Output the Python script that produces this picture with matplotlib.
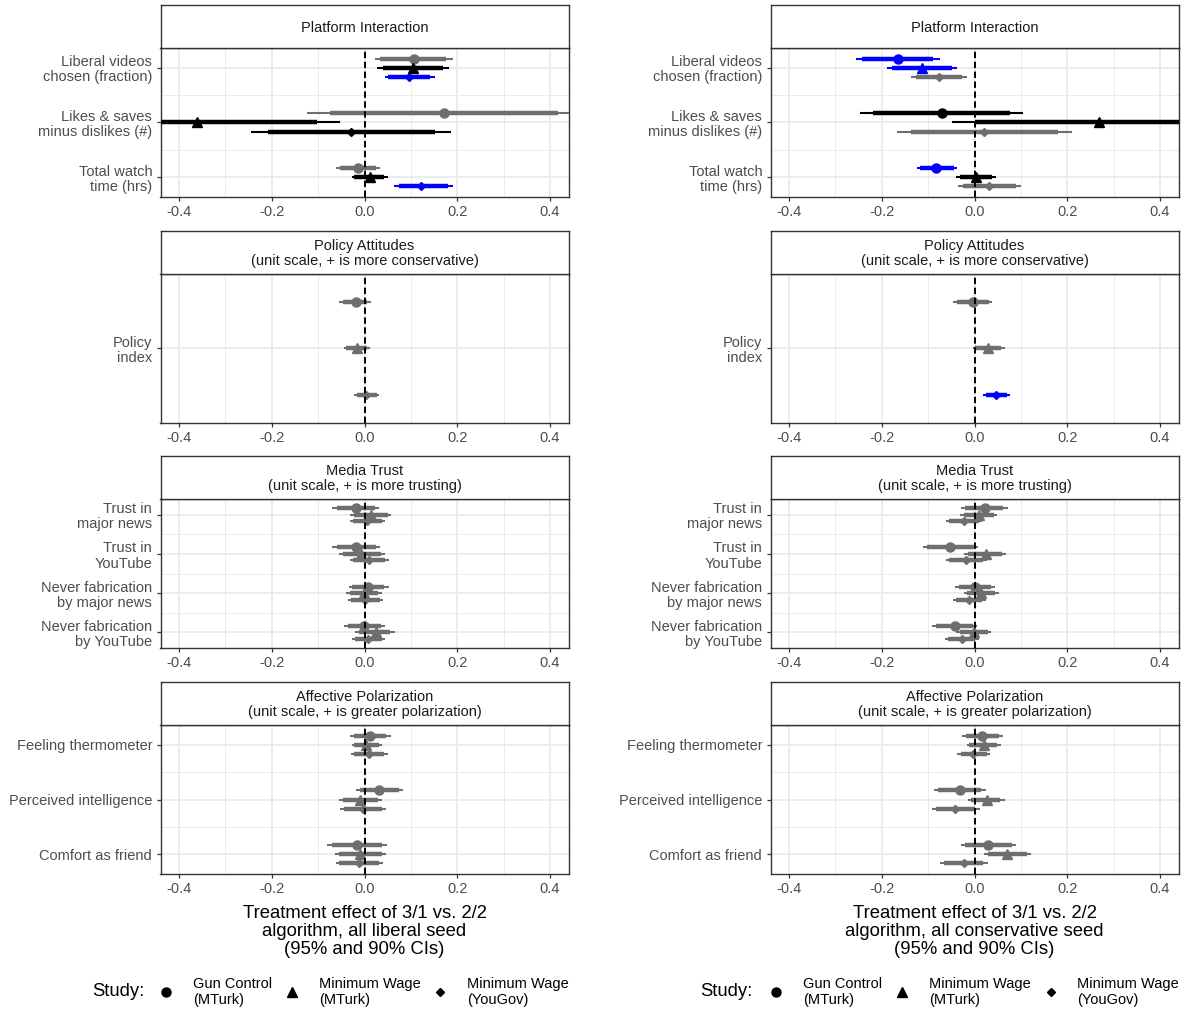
import numpy as np
import matplotlib
matplotlib.use('Agg')
import matplotlib.pyplot as plt
from matplotlib.lines import Line2D

plt.rcParams['font.family'] = ['Liberation Sans', 'DejaVu Sans']

# ---- data -------------------------------------------------------------
studies = ['Gun Control\n(MTurk)', 'Minimum Wage\n(MTurk)', 'Minimum Wage\n(YouGov)']

facets = ['Platform Interaction',
          'Policy Attitudes\n(unit scale, + is more conservative)',
          'Media Trust\n(unit scale, + is more trusting)',
          'Affective Polarization\n(unit scale, + is greater polarization)']

outcomes = [
    ['Liberal videos\nchosen (fraction)', 'Likes & saves\nminus dislikes (#)', 'Total watch\ntime (hrs)'],
    ['Policy\nindex'],
    ['Trust in\nmajor news', 'Trust in\nYouTube', 'Never fabrication\nby major news', 'Never fabrication\nby YouTube'],
    ['Feeling thermometer', 'Perceived intelligence', 'Comfort as friend'],
]

xtitles = ['Treatment effect of 3/1 vs. 2/2\nalgorithm, all liberal seed\n(95% and 90% CIs)',
           'Treatment effect of 3/1 vs. 2/2\nalgorithm, all conservative seed\n(95% and 90% CIs)']

# one row per outcome (in order above), one value per study
lib_est = [[0.106, 0.104, 0.097], [0.171, -0.361, -0.029], [-0.014, 0.011, 0.122],
           [-0.019, -0.017, 0.004],
           [-0.019, 0.014, 0.006], [-0.018, -0.007, 0.009], [0.008, -0.001, 0.001], [-0.001, 0.024, 0.008],
           [0.011, 0.004, 0.009], [0.032, -0.010, -0.003], [-0.016, -0.010, -0.012]]
lib_lo95 = [[0.022, 0.027, 0.044], [-0.123, -0.670, -0.244], [-0.062, -0.027, 0.064],
            [-0.054, -0.044, -0.022],
            [-0.070, -0.032, -0.032], [-0.070, -0.055, -0.032], [-0.034, -0.039, -0.035], [-0.044, -0.021, -0.027],
            [-0.032, -0.027, -0.030], [-0.018, -0.055, -0.053], [-0.080, -0.064, -0.062]]
lib_hi95 = [[0.191, 0.182, 0.151], [0.465, -0.052, 0.187], [0.034, 0.050, 0.191],
            [0.014, 0.011, 0.031],
            [0.032, 0.057, 0.044], [0.034, 0.045, 0.053], [0.052, 0.037, 0.039], [0.045, 0.065, 0.044],
            [0.057, 0.038, 0.051], [0.083, 0.038, 0.047], [0.049, 0.046, 0.039]]
lib_lo90 = [[0.034, 0.039, 0.051], [-0.075, -0.620, -0.209], [-0.052, -0.022, 0.075],
            [-0.046, -0.039, -0.016],
            [-0.060, -0.023, -0.025], [-0.060, -0.046, -0.024], [-0.027, -0.032, -0.029], [-0.035, -0.012, -0.020],
            [-0.023, -0.022, -0.022], [-0.009, -0.046, -0.044], [-0.070, -0.055, -0.054]]
lib_hi90 = [[0.176, 0.169, 0.142], [0.417, -0.102, 0.153], [0.025, 0.042, 0.180],
            [0.006, 0.006, 0.026],
            [0.022, 0.050, 0.038], [0.024, 0.036, 0.045], [0.042, 0.029, 0.033], [0.036, 0.056, 0.037],
            [0.047, 0.031, 0.042], [0.074, 0.029, 0.038], [0.038, 0.037, 0.031]]
lib_col = [['g', 'k', 'b'], ['g', 'k', 'k'], ['g', 'k', 'b'],
           ['g', 'g', 'g'],
           ['g', 'g', 'g'], ['g', 'g', 'g'], ['g', 'g', 'g'], ['g', 'g', 'g'],
           ['g', 'g', 'g'], ['g', 'g', 'g'], ['g', 'g', 'g']]

con_est = [[-0.165, -0.113, -0.076], [-0.071, 0.269, 0.021], [-0.082, 0.004, 0.032],
           [-0.004, 0.029, 0.047],
           [0.022, 0.009, -0.022], [-0.053, 0.024, -0.018], [0.000, 0.014, -0.012], [-0.043, -0.001, -0.028],
           [0.016, 0.020, -0.003], [-0.032, 0.026, -0.041], [0.030, 0.070, -0.023]]
con_lo95 = [[-0.255, -0.189, -0.136], [-0.247, -0.049, -0.168], [-0.124, -0.040, -0.036],
            [-0.047, -0.004, 0.018],
            [-0.029, -0.031, -0.062], [-0.112, -0.022, -0.062], [-0.042, -0.023, -0.047], [-0.091, -0.039, -0.064],
            [-0.028, -0.017, -0.037], [-0.088, -0.014, -0.091], [-0.030, 0.020, -0.075]]
con_hi95 = [[-0.075, -0.037, -0.016], [0.104, 0.587, 0.210], [-0.037, 0.047, 0.100],
            [0.038, 0.065, 0.077],
            [0.072, 0.049, 0.017], [0.007, 0.069, 0.026], [0.044, 0.053, 0.024], [0.006, 0.036, 0.009],
            [0.062, 0.057, 0.034], [0.025, 0.065, 0.011], [0.090, 0.122, 0.029]]
con_lo90 = [[-0.242, -0.177, -0.127], [-0.219, 0.000, -0.138], [-0.118, -0.032, -0.025],
            [-0.037, 0.002, 0.024],
            [-0.021, -0.023, -0.055], [-0.102, -0.014, -0.055], [-0.034, -0.016, -0.039], [-0.083, -0.032, -0.057],
            [-0.019, -0.011, -0.030], [-0.078, -0.007, -0.082], [-0.021, 0.029, -0.066]]
con_hi90 = [[-0.089, -0.049, -0.026], [0.076, 0.538, 0.180], [-0.044, 0.038, 0.090],
            [0.031, 0.057, 0.070],
            [0.062, 0.042, 0.009], [-0.001, 0.060, 0.019], [0.036, 0.045, 0.016], [-0.003, 0.029, 0.002],
            [0.052, 0.049, 0.027], [0.015, 0.056, 0.001], [0.081, 0.113, 0.019]]
con_col = [['b', 'b', 'g'], ['k', 'k', 'g'], ['b', 'k', 'g'],
           ['g', 'g', 'b'],
           ['g', 'g', 'g'], ['g', 'g', 'g'], ['g', 'g', 'g'], ['g', 'g', 'g'],
           ['g', 'g', 'g'], ['g', 'g', 'g'], ['g', 'g', 'g']]

# ---- style ------------------------------------------------------------
palette = {'g': '#6E6E6E', 'k': 'black', 'b': '#0000FF'}
markers = ['o', '^', 'D']
msizes = [6.5, 7.5, 3.6]
offsets = [-0.167, 0.0, 0.167]

W, H = 1182, 1010
fig = plt.figure(figsize=(W / 100, H / 100), dpi=100)

pw, ph, sh = 408 / W, 149 / H, 43 / H
col_x = [160.5 / W, 770.5 / W]
panel_tops = [48, 274, 499, 725]


def draw_side(x0, est, lo95, hi95, lo90, hi90, cols, xtitle):
    k = 0
    for f, labels in enumerate(outcomes):
        n = len(labels)
        bottom = 1 - (panel_tops[f] + 149) / H
        ax = fig.add_axes([x0, bottom, pw, ph])
        for i in range(n):
            for s in range(3):
                y = i + 1 + offsets[s]
                c = palette[cols[k + i][s]]
                ax.plot([lo95[k + i][s], hi95[k + i][s]], [y, y], color=c, lw=1.5,
                        solid_capstyle='butt', zorder=3)
                ax.plot([lo90[k + i][s], hi90[k + i][s]], [y, y], color=c, lw=3.2,
                        solid_capstyle='butt', zorder=3)
                ax.plot(est[k + i][s], y, marker=markers[s], ms=msizes[s], color=c,
                        mec=c, ls='none', zorder=4)
        k += n

        margin = 0.225 + 0.045 * n
        ax.set_ylim(n + margin, 1 - margin)
        ax.set_xlim(-0.44, 0.44)
        ax.axvline(0, color='black', lw=1.4, ls=(0, (3.3, 1.8)), zorder=5)

        ax.set_xticks([-0.4, -0.2, 0.0, 0.2, 0.4])
        ax.set_xticklabels(['-0.4', '-0.2', '0.0', '0.2', '0.4'])
        ax.set_xticks([-0.3, -0.1, 0.1, 0.3], minor=True)
        ax.set_yticks(np.arange(1, n + 1))
        ax.set_yticklabels(labels)
        ax.set_yticks(np.arange(1.5, n), minor=True)
        ax.grid(which='major', color='#EBEBEB', lw=1.3, zorder=0)
        ax.grid(which='minor', color='#EBEBEB', lw=0.7, zorder=0)
        ax.set_axisbelow(True)
        ax.tick_params(which='major', length=3, width=0.9, color='#333333',
                       labelsize=10.5, labelcolor='#4D4D4D', pad=3)
        ax.tick_params(which='minor', length=0)
        for t in ax.get_yticklabels():
            t.set_linespacing(1.1)
        for sp in ax.spines.values():
            sp.set_color('#333333')
            sp.set_linewidth(1.0)

        strip = fig.add_axes([x0, 1 - panel_tops[f] / H, pw, sh])
        strip.set_xticks([])
        strip.set_yticks([])
        for sp in strip.spines.values():
            sp.set_color('#333333')
            sp.set_linewidth(1.0)
        strip.text(0.5, 0.47, facets[f], ha='center', va='center', fontsize=10.5,
                   color='#1A1A1A', linespacing=1.12, transform=strip.transAxes)

    fig.text(x0 + pw / 2, 1 - 931.5 / H, xtitle, ha='center', va='center',
             fontsize=13.3, linespacing=1.08)


draw_side(col_x[0], lib_est, lib_lo95, lib_hi95, lib_lo90, lib_hi90, lib_col, xtitles[0])
draw_side(col_x[1], con_est, con_lo95, con_hi95, con_lo90, con_hi90, con_col, xtitles[1])

# legends
handles = [Line2D([], [], ls='none', marker=m, ms=ms, color='black') for m, ms in zip(markers, msizes)]
for x_study, x_leg in [(92, 159), (700, 769)]:
    fig.text(x_study / W, 1 - 992 / H, 'Study:', fontsize=13.3, va='center', ha='left')
    leg = fig.legend(handles, studies, loc='center left', bbox_to_anchor=(x_leg / W, 1 - 992 / H),
                     ncol=3, frameon=False, fontsize=10.5, handlelength=1.0,
                     handletextpad=1.35, columnspacing=0.85, borderaxespad=0, borderpad=0)
    for t in leg.get_texts():
        t.set_linespacing(1.12)

fig.savefig('out.png', dpi=100)
